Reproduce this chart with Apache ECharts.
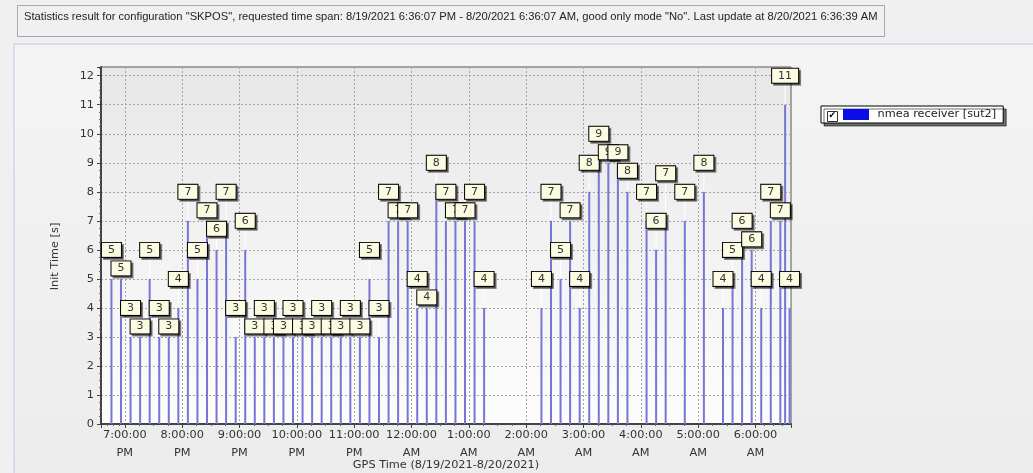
<!DOCTYPE html>
<html><head><meta charset="utf-8">
<script src="https://cdn.jsdelivr.net/npm/echarts@6/dist/echarts.min.js"></script>
<style>html,body{margin:0;padding:0;background:#f0f0f0;}#chart{width:1033px;height:473px;}</style>
</head><body><div id="chart"></div>
<script>
// ---------------- data ----------------
const titleText = 'Statistics result for configuration "SKPOS", requested time span: 8/19/2021 6:36:07 PM - 8/20/2021 6:36:07 AM, good only mode "No". Last update at 8/20/2021 6:36:39 AM';
const seriesName = 'nmea receiver [sut2]';
const xAxisName = 'GPS Time (8/19/2021-8/20/2021)';
const yAxisName = 'Init Time [s]';
const timeMin = '2021-08-19 18:36:07';
const timeMax = '2021-08-20 06:36:07';
const yMin = 0, yMax = 12.3, yStep = 1;
const times = [
  '2021-08-19 18:46','2021-08-19 18:56','2021-08-19 19:06','2021-08-19 19:16','2021-08-19 19:26','2021-08-19 19:36',
  '2021-08-19 19:46','2021-08-19 19:56','2021-08-19 20:06','2021-08-19 20:16','2021-08-19 20:26','2021-08-19 20:36',
  '2021-08-19 20:46','2021-08-19 20:56','2021-08-19 21:06','2021-08-19 21:16','2021-08-19 21:26','2021-08-19 21:36',
  '2021-08-19 21:46','2021-08-19 21:56','2021-08-19 22:06','2021-08-19 22:16','2021-08-19 22:26','2021-08-19 22:36',
  '2021-08-19 22:46','2021-08-19 22:56','2021-08-19 23:06','2021-08-19 23:16','2021-08-19 23:26','2021-08-19 23:36',
  '2021-08-19 23:46','2021-08-19 23:56',
  '2021-08-20 00:06','2021-08-20 00:16','2021-08-20 00:26','2021-08-20 00:36','2021-08-20 00:46','2021-08-20 00:56',
  '2021-08-20 01:06','2021-08-20 01:16',
  '2021-08-20 02:16','2021-08-20 02:26','2021-08-20 02:36','2021-08-20 02:46','2021-08-20 02:56',
  '2021-08-20 03:06','2021-08-20 03:16','2021-08-20 03:26','2021-08-20 03:36','2021-08-20 03:46',
  '2021-08-20 04:06','2021-08-20 04:16','2021-08-20 04:26','2021-08-20 04:46',
  '2021-08-20 05:06','2021-08-20 05:26','2021-08-20 05:36','2021-08-20 05:46','2021-08-20 05:56',
  '2021-08-20 06:06','2021-08-20 06:16','2021-08-20 06:26','2021-08-20 06:31','2021-08-20 06:35:40'
];
const initTimes = [
  5,5,3,3,5,3,
  3,4,7,5,7,6,
  7,3,6,3,3,3,
  3,3,3,3,3,3,
  3,3,3,5,3,7,
  7,7,
  4,4,8,7,7,7,
  7,4,
  4,7,5,7,4,
  8,9,9,9,8,
  7,6,7,7,
  8,4,5,6,6,
  4,7,7,11,4
];

// ---------------- chart ----------------
const FONT = 'DejaVu Sans';
const seriesData = times.map((t, i) => [t, initTimes[i]]);

// TeeChart-like mark anti-overlap: default above bar; shift down/up past an overlapping earlier mark
const MARK_GAP = 29, MARK_SHIFT = 18.5, MARK_VTHRESH = 17, MARK_NEIGHBOUR = 14;
let placedMarks = [];
function layoutMark(params) {
  if (params.dataIndex === 0) placedMarks = [];
  const r = params.rect, lr = params.labelRect;
  const cx = r.x + r.width / 2;
  const top = Math.min(r.y, r.y + r.height);
  let cy = top - MARK_GAP;
  let isDefault = true;
  for (let j = placedMarks.length - 1; j >= 0; j--) {
    const p = placedMarks[j];
    if (Math.abs(cx - p.x) < (lr.width + p.w) / 2 && Math.abs(cy - p.y) < MARK_VTHRESH) {
      if (cy < p.y) {
        cy = p.y - MARK_SHIFT;
      } else {
        const down = p.y + MARK_SHIFT;
        const blocked = placedMarks.some(q => q !== p && q.isDefault &&
          Math.abs(cx - q.x) < MARK_NEIGHBOUR && Math.abs(down - q.y) < MARK_VTHRESH);
        cy = blocked ? p.y - MARK_SHIFT : down;
      }
      isDefault = false;
      break;
    }
  }
  placedMarks.push({ x: cx, y: cy, w: lr.width, isDefault });
  return { x: cx, y: cy, align: 'center', verticalAlign: 'middle' };
}

function fmtHour(v) {
  const d = new Date(v);
  if (d.getMinutes() !== 0 || d.getSeconds() !== 0) return '';
  const h = d.getHours();
  const h12 = h % 12 === 0 ? 12 : h % 12;
  return h12 + ':00:00\n' + (h < 12 ? 'AM' : 'PM');
}

const chart = echarts.init(document.getElementById('chart'), null, { renderer: 'canvas' });
chart.setOption({
  animation: false,
  backgroundColor: '#f0f0f0',
  title: {
    text: titleText, left: 17, top: 5,
    padding: [6, 7, 15, 7],
    backgroundColor: '#f0f0f0', borderColor: '#a8a8a8', borderWidth: 1,
    textStyle: { fontFamily: 'Liberation Sans', fontSize: 11.2, fontWeight: 'normal', color: '#222' }
  },
  graphic: [
    { type: 'rect', z: -100, silent: true, shape: { x: 14, y: 44, width: 1030, height: 440 },
      style: { fill: { type: 'linear', x: 0, y: 0, x2: 0, y2: 1,
        colorStops: [{ offset: 0, color: '#f4f4f4' }, { offset: 1, color: '#ececec' }] },
        stroke: '#b9cde6', lineWidth: 1 } },
    { type: 'rect', z: 100, shape: { x: 827.5, y: 111.5, width: 10, height: 10 },
      style: { fill: '#fff', stroke: '#333', lineWidth: 1 } },
    { type: 'text', z: 101, x: 828.5, y: 111, style: { text: '✔', font: '9px DejaVu Sans', fill: '#000' } }
  ],
  legend: {
    left: 821, top: 106, padding: [3, 7, 3, 22],
    itemWidth: 26, itemHeight: 11, icon: 'rect',
    backgroundColor: '#fff', borderColor: '#000', borderWidth: 1, borderRadius: 0,
    shadowColor: 'rgba(0,0,0,0.55)', shadowOffsetX: 3, shadowOffsetY: 3, shadowBlur: 0,
    formatter: n => ' ' + n,
    textStyle: { fontFamily: FONT, fontSize: 11.3, color: '#222' },
    data: [{ name: seriesName, itemStyle: { color: '#0c0ce8' } }]
  },
  grid: {
    left: 101, right: 242, top: 67, bottom: 49, show: true,
    containLabel: false, outerBoundsMode: 'none',
    borderColor: '#555', borderWidth: 1,
    backgroundColor: { type: 'linear', x: 0, y: 0, x2: 0, y2: 1,
      colorStops: [{ offset: 0, color: '#e7e7e7' }, { offset: 1, color: '#fdfdfd' }] }
  },
  xAxis: {
    type: 'time', min: timeMin, max: timeMax,
    minInterval: 3600 * 1000, maxInterval: 3600 * 1000, splitNumber: 12,
    name: xAxisName, nameLocation: 'middle', nameGap: 36, nameMoveOverlap: false,
    nameTextStyle: { fontFamily: FONT, fontSize: 11.3, color: '#333' },
    axisLine: { lineStyle: { color: '#444', width: 2 } },
    axisTick: { show: true, inside: false, length: 4, lineStyle: { color: '#444' } },
    minorTick: { show: true, splitNumber: 4, length: 2, lineStyle: { color: '#666' } },
    axisLabel: { formatter: fmtHour, fontFamily: FONT, fontSize: 11.3, color: '#333',
      lineHeight: 18, margin: 2, hideOverlap: false, showMinLabel: false, showMaxLabel: false },
    splitLine: { show: true, lineStyle: { color: '#a5a5a5', type: [2, 2], width: 1 } }
  },
  yAxis: {
    type: 'value', min: yMin, max: yMax, interval: yStep,
    name: yAxisName, nameLocation: 'middle', nameGap: 40, nameRotate: 90, nameMoveOverlap: false,
    nameTextStyle: { fontFamily: FONT, fontSize: 11.3, color: '#333', padding: [0, 0, 0, -22] },
    axisLine: { show: true, lineStyle: { color: '#444', width: 2 } },
    axisTick: { show: true, inside: false, length: 4, lineStyle: { color: '#444' } },
    minorTick: { show: true, splitNumber: 4, length: 2, lineStyle: { color: '#666' } },
    axisLabel: { fontFamily: FONT, fontSize: 11.3, color: '#333', margin: 7,
      formatter: v => (Math.abs(v - Math.round(v)) < 1e-9 ? String(Math.round(v)) : '') },
    splitLine: { show: true, lineStyle: { color: '#a5a5a5', type: [2, 2], width: 1 } }
  },
  series: [{
    name: seriesName, type: 'bar', data: seriesData, barWidth: 2,
    itemStyle: { color: 'rgb(118,118,214)' },
    label: {
      show: true, position: 'top',
      formatter: p => String(p.value[1]),
      fontFamily: FONT, fontSize: 11, color: '#333',
      backgroundColor: '#fbfbe2', borderColor: '#000', borderWidth: 1,
      padding: [2, 6, 1, 6],
      shadowColor: 'rgba(0,0,0,0.45)', shadowOffsetX: 2, shadowOffsetY: 2, shadowBlur: 0
    },
    labelLine: { show: true, lineStyle: { color: '#ffffff', width: 1 } },
    labelLayout: layoutMark
  }]
});
</script></body></html>
